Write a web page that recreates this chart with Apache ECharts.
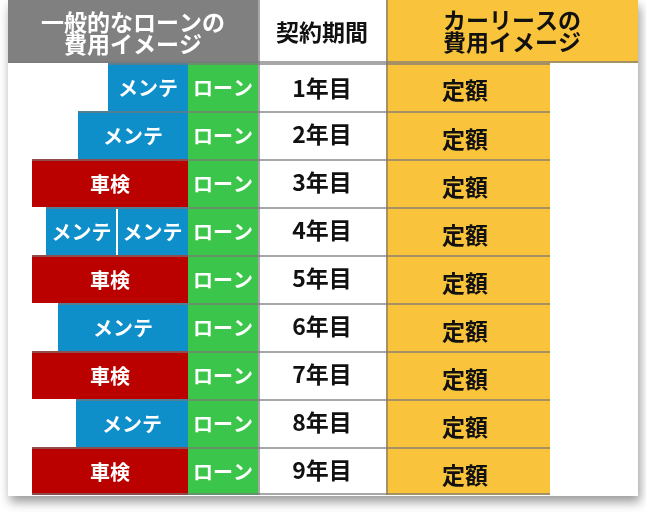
<!DOCTYPE html>
<html>
<head>
<meta charset="utf-8">
<script src="https://cdn.jsdelivr.net/npm/echarts@6/dist/echarts.min.js"></script>
<style>
  html, body { margin: 0; padding: 0; background: #fff; }
  #main { width: 646px; height: 512px; }
</style>
</head>
<body>
<div id="main"></div>
<script>
// 契約年数
const years = ['1年目', '2年目', '3年目', '4年目', '5年目', '6年目', '7年目', '8年目', '9年目'];
// 一般的なローンの費用（左へ積み上げ）
const loanCost = [70, 70, 70, 70, 70, 70, 70, 70, 70];
const mainteCost = [80, 110, 0, 71, 0, 130, 0, 112, 0];
const mainteCost2 = [0, 0, 0, 71, 0, 0, 0, 0, 0];
const shakenCost = [0, 0, 156, 0, 156, 0, 156, 0, 156];
// カーリースの費用
const leaseCost = [164, 164, 164, 164, 164, 164, 164, 164, 164];

const headerLoan = '一般的なローンの\n費用イメージ';
const headerPeriod = '契約期間';
const headerLease = 'カーリースの\n費用イメージ';
const kindLabels = ['ローン', 'メンテ', 'メンテ', '車検', '', '定額'];
const kindColors = ['#3cc54b', '#0f8fc9', '#0f8fc9', '#bb0000', '#ffffff', '#f9c43b'];
const kindText = ['#fff', '#fff', '#fff', '#fff', '#111', '#111'];

const PERIOD_W = 128; // 契約期間の列幅
const FONT = '"Noto Sans CJK JP", "Noto Sans", sans-serif';
const LINE = 'rgba(120,120,120,0.65)';

// 積み上げ区間を作る
const segs = [];
years.forEach((y, i) => {
  let neg = 0;
  [loanCost, mainteCost, mainteCost2, shakenCost].forEach((arr, k) => {
    if (arr[i] > 0) {
      segs.push([-(neg + arr[i]), -neg, i, k]);
      neg += arr[i];
    }
  });
  segs.push([0, PERIOD_W, i, 4]);
  segs.push([PERIOD_W, PERIOD_W + leaseCost[i], i, 5]);
});

function renderItem(params, api) {
  const x0 = api.value(0), x1 = api.value(1), row = api.value(2), kind = api.value(3);
  const p0 = api.coord([x0, row]);
  const p1 = api.coord([x1, row]);
  const h = api.size([0, 1])[1];
  const top = p0[1] - h / 2;
  const left = p0[0], w = p1[0] - p0[0];
  const children = [{
    type: 'rect',
    shape: { x: left, y: top, width: w, height: h },
    style: { fill: kindColors[kind] }
  }, {
    type: 'line',
    shape: { x1: left, y1: top + 1, x2: left + w, y2: top + 1 },
    style: { stroke: LINE, lineWidth: 2 }
  }];
  if (row === years.length - 1) {
    children.push({
      type: 'line',
      shape: { x1: left, y1: top + h - 1, x2: left + w, y2: top + h - 1 },
      style: { stroke: LINE, lineWidth: 2 }
    });
  }
  if (kind === 2) { // メンテ同士の区切り
    children.push({
      type: 'line',
      shape: { x1: left + w, y1: top + 2, x2: left + w, y2: top + h },
      style: { stroke: '#fff', lineWidth: 2 }
    });
  }
  if (kind === 4 || kind === 5) { // 列の区切り線
    children.push({
      type: 'line',
      shape: { x1: left + 1, y1: top, x2: left + 1, y2: top + h },
      style: { stroke: LINE, lineWidth: 2 }
    });
  }
  const label = kind === 4 ? years[row] : kindLabels[kind];
  let dy = 1;
  if (kind === 5) dy = row > 0 ? 4 : 3;
  if (kind === 4) dy = row > 0 ? -1 : 1;
  children.push({
    type: 'text',
    style: {
      text: label,
      x: left + w / 2 + (kind === 5 ? -3 : 0),
      y: top + h / 2 + dy,
      align: 'center',
      verticalAlign: 'middle',
      fill: kindText[kind],
      fontSize: kind >= 4 ? 23 : 20,
      fontWeight: 'bold',
      fontFamily: FONT
    }
  });
  return { type: 'group', children: children };
}

const chart = echarts.init(document.getElementById('main'));
chart.setOption({
  animation: false,
  grid: { left: 8, right: 8, top: 63, bottom: 17 },
  xAxis: { type: 'value', min: -250, max: 380, show: false },
  yAxis: { type: 'category', data: years, inverse: true, show: false },
  graphic: [
    { type: 'rect', z: -10, shape: { x: 8, y: 0, width: 630, height: 496 },
      style: { fill: '#fff', shadowBlur: 10, shadowOffsetX: 2, shadowOffsetY: 6, shadowColor: 'rgba(0,0,0,0.4)' } },
    { type: 'rect', shape: { x: 8, y: 0, width: 250, height: 63 }, style: { fill: '#808080' } },
    { type: 'rect', shape: { x: 386, y: 0, width: 252, height: 63 }, style: { fill: '#f9c43b' } },
    { type: 'line', shape: { x1: 259, y1: 0, x2: 259, y2: 63 }, style: { stroke: LINE, lineWidth: 2 } },
    { type: 'line', shape: { x1: 387, y1: 0, x2: 387, y2: 63 }, style: { stroke: LINE, lineWidth: 2 } },
    { type: 'line', shape: { x1: 8, y1: 62, x2: 638, y2: 62 }, style: { stroke: LINE, lineWidth: 2 } },
    { type: 'text', style: { text: headerLoan, x: 133, y: 33, align: 'center', verticalAlign: 'middle',
      fill: '#fff', fontSize: 23, lineHeight: 22, fontWeight: 'bold', fontFamily: FONT } },
    { type: 'text', style: { text: headerPeriod, x: 322, y: 32, align: 'center', verticalAlign: 'middle',
      fill: '#111', fontSize: 23, fontWeight: 'bold', fontFamily: FONT } },
    { type: 'text', style: { text: headerLease, x: 512, y: 31, align: 'center', verticalAlign: 'middle',
      fill: '#111', fontSize: 23, lineHeight: 22, fontWeight: 'bold', fontFamily: FONT } }
  ],
  series: [{
    type: 'custom',
    renderItem: renderItem,
    encode: { x: [0, 1], y: 2 },
    data: segs
  }]
});
</script>
</body>
</html>
